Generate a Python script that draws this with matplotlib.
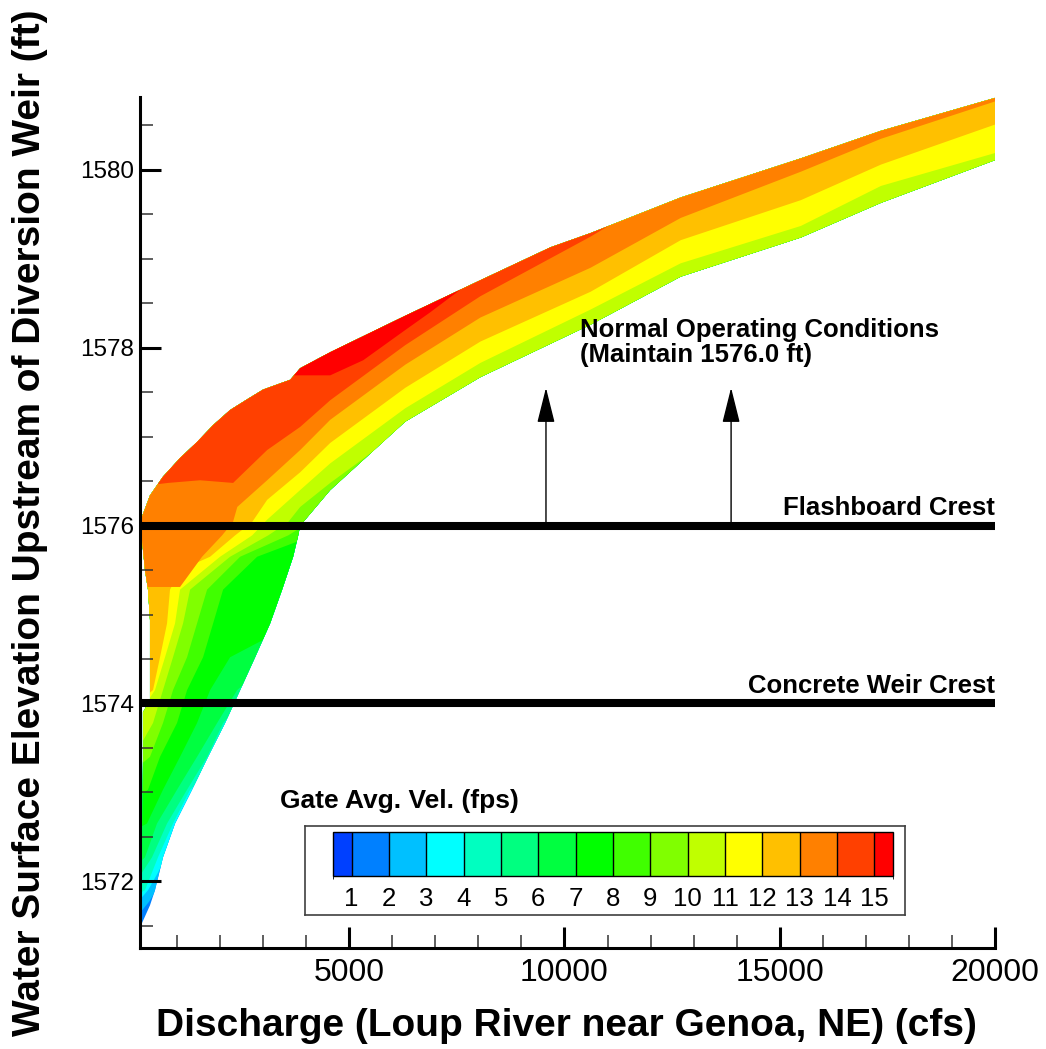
import numpy as np
import matplotlib
matplotlib.use("Agg")
import matplotlib.pyplot as plt
from matplotlib.colors import ListedColormap, BoundaryNorm
from matplotlib.cm import ScalarMappable
from matplotlib.patches import Polygon
from matplotlib.ticker import MultipleLocator

# ---------------- data ----------------
level_ticks = list(range(1, 16))
level_bounds = [0.5] + list(range(1, 16)) + [15.5]
level_colors = ['#0040FF', '#0080FF', '#00C0FF', '#00FFFF', '#00FFC0', '#00FF80',
                '#00FF40', '#00FF00', '#40FF00', '#80FF00', '#C0FF00', '#FFFF00',
                '#FFC000', '#FF8000', '#FF4000', '#FF0000']

# outline of the computed region: left/top edge (from lower tip to Q=20000)
edge_upper_q = [186, 186, 209, 209, 372, 372, 326, 256, 186, 186, 372, 674, 1070, 1465,
                1838, 2233, 2628, 3000, 3629, 3861, 4559, 6303, 8048, 9676, 10607, 12700,
                15491, 17352, 20000]
edge_upper_z = [1571.53, 1572.35, 1573.36, 1573.90, 1574.04, 1574.94, 1575.28, 1575.50,
                1575.84, 1576.10, 1576.34, 1576.55, 1576.76, 1576.94, 1577.13, 1577.30,
                1577.42, 1577.53, 1577.64, 1577.77, 1577.95, 1578.36, 1578.76, 1579.13,
                1579.29, 1579.69, 1580.13, 1580.44, 1580.81]
# right/bottom edge (from lower tip to Q=20000)
edge_lower_q = [186, 372, 488, 674, 954, 1349, 1721, 2117, 2466, 2814, 3163, 3442, 3698,
                3815, 3861, 4559, 6303, 8048, 10607, 12700, 15491, 17352, 20000]
edge_lower_z = [1571.53, 1571.73, 1571.90, 1572.27, 1572.65, 1573.03, 1573.40, 1573.78,
                1574.15, 1574.52, 1574.90, 1575.28, 1575.65, 1575.89, 1576.00, 1576.40,
                1577.17, 1577.67, 1578.26, 1578.80, 1579.24, 1579.63, 1580.11]

# velocity contour lines (discharge, elevation), level v separates v-1..v from v..v+1
c2_q = [150, 350, 540]
c2_z = [1571.65, 1571.77, 1571.92]
c3_q = [150, 326, 560, 720]
c3_z = [1571.80, 1571.90, 1572.10, 1572.26]
c4_q = [150, 256, 558, 907, 1303, 1460]
c4_z = [1571.87, 1571.90, 1572.27, 1572.65, 1573.03, 1573.10]
c5_q = [150, 419, 768, 1233, 1698, 2070, 2250]
c5_z = [1572.07, 1572.27, 1572.65, 1573.03, 1573.40, 1573.78, 1573.88]
c6_q = [150, 256, 535, 1000, 1465, 1931, 2396, 2560]
c6_z = [1572.22, 1572.27, 1572.65, 1573.03, 1573.40, 1573.78, 1574.15, 1574.22]
c7_q = [150, 302, 674, 1070, 1465, 1768, 2233, 3100]
c7_z = [1572.61, 1572.65, 1573.03, 1573.40, 1573.78, 1574.15, 1574.52, 1574.74]
c8_q = [150, 326, 605, 1000, 1233, 1605, 1838, 2070, 2861, 3900]
c8_z = [1572.97, 1573.03, 1573.40, 1573.78, 1574.15, 1574.52, 1574.90, 1575.28, 1575.65, 1575.84]
c9_q = [150, 372, 674, 907, 1233, 1465, 1698, 2466, 3582, 3950]
c9_z = [1573.31, 1573.40, 1573.78, 1574.15, 1574.52, 1574.90, 1575.28, 1575.65, 1575.89, 1576.00]
c10_q = [150, 442, 674, 907, 1140, 1303, 2233, 3117, 3582, 3861, 4559, 6303, 8048, 10607,
         12700, 15491, 17352, 20300]
c10_z = [1573.53, 1573.78, 1574.15, 1574.52, 1574.90, 1575.28, 1575.65, 1575.89, 1576.04,
         1576.21, 1576.48, 1577.10, 1577.62, 1578.21, 1578.75, 1579.19, 1579.58, 1580.07]
c11_q = [150, 488, 721, 954, 1070, 2000, 2745, 3100, 3861, 4559, 6303, 8048, 10607, 12700,
         15491, 17352, 20000, 20300]
c11_z = [1573.90, 1574.15, 1574.52, 1574.90, 1575.28, 1575.65, 1575.89, 1576.07, 1576.40,
         1576.70, 1577.32, 1577.83, 1578.43, 1578.95, 1579.37, 1579.82, 1580.19, 1580.22]
c12_q = [150, 442, 605, 768, 837, 1070, 1768, 2349, 2745, 3094, 3861, 4559, 6303, 8048,
         10607, 12700, 15491, 17352, 20000, 20300]
c12_z = [1574.04, 1574.15, 1574.52, 1574.90, 1575.28, 1575.50, 1575.65, 1575.89, 1576.04,
         1576.29, 1576.60, 1576.93, 1577.55, 1578.07, 1578.63, 1579.21, 1579.66, 1580.06,
         1580.51, 1580.55]
c13_q = [150, 1070, 1582, 2047, 2300, 2400, 3094, 3861, 4559, 6303, 8048, 10607, 12700,
         15491, 17352, 20000, 20300]
c13_z = [1575.31, 1575.31, 1575.65, 1575.89, 1576.04, 1576.21, 1576.51, 1576.85, 1577.19,
         1577.81, 1578.34, 1578.90, 1579.46, 1579.98, 1580.35, 1580.77, 1580.80]
c14_q = [450, 791, 1535, 2303, 3094, 3861, 4559, 6303, 8048, 10607, 11300]
c14_z = [1576.46, 1576.48, 1576.51, 1576.48, 1576.85, 1577.11, 1577.41, 1578.03, 1578.58,
         1579.25, 1579.45]
c15_q = [3698, 4559, 5326, 6303, 6885, 7653, 7900]
c15_z = [1577.69, 1577.69, 1577.86, 1578.20, 1578.40, 1578.68, 1578.80]

crest_elev = [1576.0, 1574.0]
crest_names = ['Flashboard Crest', 'Concrete Weir Crest']
arrow_q = [9570, 13870]
arrow_top = 1577.55

# ---------------- figure ----------------
plt.rcParams['font.family'] = ['Liberation Sans', 'DejaVu Sans']
W, H = 1046, 1049
fig = plt.figure(figsize=(W / 100, H / 100), dpi=100)


def fx(px):
    return px / W


def fy(py):
    return 1 - py / H


ax = fig.add_axes([fx(140), fy(948), (995 - 140) / W, (948 - 97) / H])
ax.set_xlim(140, 20000)
ax.set_ylim(1571.25, 1580.82)

# band outline, used as clip path
out_q = edge_upper_q + edge_lower_q[::-1]
out_z = edge_upper_z + edge_lower_z[::-1]
band = Polygon(np.column_stack([out_q, out_z]), closed=True, fc=level_colors[1],
               ec='none', zorder=1)
ax.add_patch(band)

contours = [(2, c2_q, c2_z), (3, c3_q, c3_z), (4, c4_q, c4_z), (5, c5_q, c5_z),
            (6, c6_q, c6_z), (7, c7_q, c7_z), (8, c8_q, c8_z), (9, c9_q, c9_z),
            (10, c10_q, c10_z), (11, c11_q, c11_z), (12, c12_q, c12_z),
            (13, c13_q, c13_z), (14, c14_q, c14_z), (15, c15_q, c15_z)]
QS, QB, ZT = -10000, 40000, 1595
for lev, cq, cz in contours:
    cq = list(cq)
    cz = list(cz)
    if lev >= 14:   # these lines leave the region through its upper edge
        pq = cq + [cq[-1], QS, QS]
        pz = cz + [ZT, ZT, cz[0]]
    else:
        pq = cq + [QB, QB, QS, QS]
        pz = cz + [cz[-1], ZT, ZT, cz[0]]
    p = Polygon(np.column_stack([pq, pz]), closed=True, fc=level_colors[lev],
                ec='none', zorder=1.1)
    ax.add_patch(p)
    p.set_clip_path(band)

# crest lines
for e, name in zip(crest_elev, crest_names):
    ax.hlines(e, 140, 20000, colors='black', lw=5.8, zorder=3, capstyle='butt')
    ax.text(20000, e + 0.12, name, ha='right', va='baseline', fontsize=18.5,
            fontweight='bold', zorder=4)

# arrows
for q in arrow_q:
    ax.annotate('', xy=(q, arrow_top), xytext=(q, crest_elev[0]),
                arrowprops=dict(arrowstyle='-|>,head_length=2.2,head_width=0.55',
                                mutation_scale=10, lw=1, color='black',
                                shrinkA=0, shrinkB=0), zorder=4)
ax.text(10360, 1578.33, 'Normal Operating Conditions\n(Maintain 1576.0 ft)',
        ha='left', va='top', fontsize=18.5, fontweight='bold', linespacing=1.05, zorder=4)

# axes styling
for s in ['top', 'right']:
    ax.spines[s].set_visible(False)
for s in ['left', 'bottom']:
    ax.spines[s].set_linewidth(2.2)
    ax.spines[s].set_zorder(5)
ax.set_xticks([5000, 10000, 15000, 20000])
ax.set_yticks([1572, 1574, 1576, 1578, 1580])
ax.xaxis.set_minor_locator(MultipleLocator(1000))
ax.yaxis.set_minor_locator(MultipleLocator(0.5))
ax.tick_params(which='major', direction='in', length=15, width=2.2)
ax.tick_params(which='minor', direction='in', length=9.5, width=1.1, color='#333333')
ax.tick_params(axis='x', which='major', labelsize=23, pad=7)
ax.tick_params(axis='y', which='major', labelsize=17.5, pad=4)

lab_font = dict(family=['Liberation Sans', 'DejaVu Sans'], fontweight='bold', fontsize=28)
fig.text(fx(566), fy(1026), 'Discharge (Loup River near Genoa, NE) (cfs)',
         ha='center', va='center', **lab_font)
fig.text(fx(30), fy(523), 'Water Surface Elevation Upstream of Diversion Weir (ft)',
         ha='center', va='center', rotation=90, **lab_font)

# legend box + colorbar
box = fig.add_axes([fx(305), fy(915), 600 / W, 89 / H])
box.set_xticks([])
box.set_yticks([])
for s in box.spines.values():
    s.set_linewidth(1.2)
    s.set_color('#404040')
box.set_zorder(3)

cax = fig.add_axes([fx(333), fy(876), (893 - 333) / W, 44 / H])
cax.set_zorder(4)
cmap = ListedColormap(level_colors)
norm = BoundaryNorm(level_bounds, cmap.N)
cb = fig.colorbar(ScalarMappable(norm=norm, cmap=cmap), cax=cax, orientation='horizontal',
                  spacing='proportional', ticks=level_ticks, drawedges=True)
cb.outline.set_linewidth(1)
cb.dividers.set_linewidth(1)
cax.tick_params(length=0, labelsize=18.5, pad=8)
fig.text(fx(280), fy(801), 'Gate Avg. Vel. (fps)', ha='left', va='center',
         fontsize=19, fontweight='bold')

fig.savefig('out.png', dpi=100)
